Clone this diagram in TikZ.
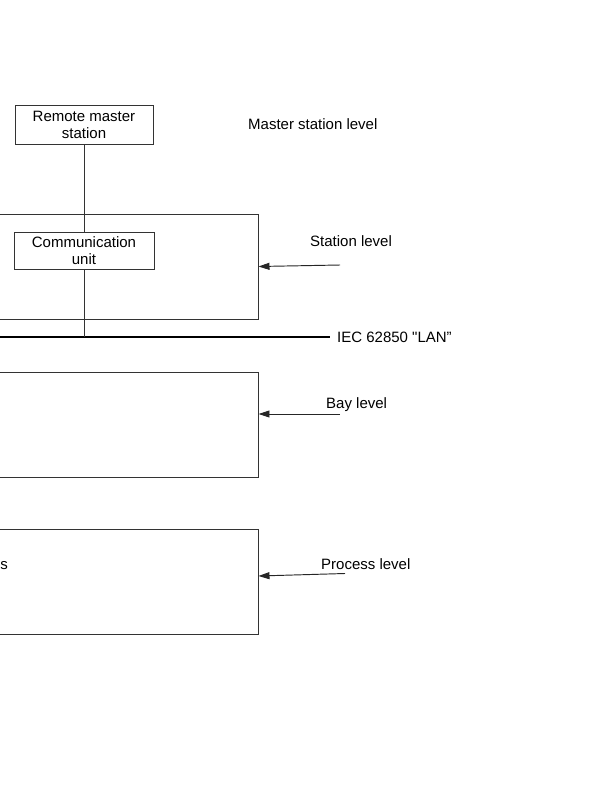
\documentclass[tikz,border=0pt]{standalone}
\usepackage{fontspec}
\setmainfont{Liberation Sans}[Ligatures=TeXOff]
\usetikzlibrary{positioning, arrows.meta}

\begin{document}
\begin{tikzpicture}[
    x=1pt, y=-1pt,
    >={Triangle[length=11pt,width=7pt]},
    every node/.style={font=\fontsize{15}{17}\selectfont},
    unit/.style={draw=black!80, line width=0.95pt, align=center, inner sep=0pt},
    level/.style={draw=black!80, line width=0.95pt, inner sep=0pt, minimum width=270pt, minimum height=105pt},
    label/.style={anchor=west, inner sep=0pt, text height=11pt, text depth=3pt},
    link/.style={draw=black!80, line width=0.95pt},
    pointer/.style={->, draw=black!85, line width=0.95pt},
    lan/.style={line width=2.8pt}
]
    \useasboundingbox (0,0) rectangle (599,800);
    \clip (0,0) rectangle (599,800);

    % the three level boxes
    \node[level] (stationbox) at (123,266.5) {};
    \node[level] (baybox) at (123,424.5) {};
    \node[level] (procbox) at (123,581.5) {};

    % units
    \node[unit, minimum width=138pt, minimum height=39pt] (remote) at (84,124.5) {Remote master\\station};
    \node[unit, minimum width=140pt, minimum height=37pt] (comm) at (84,250.5) {Communication\\unit};

    % station bus
    \coordinate (lanstart) at (-12,337);
    \coordinate (lanend) at (330,337);
    \draw[lan] (lanstart) -- (lanend);
    \node[label] (lantext) at (337,338) {IEC 62850 "LAN”};

    \draw[link] (remote) -- (comm);
    \draw[link] (comm) -- (comm.south |- lanend);

    % level names
    \node[label] (masterlabel) at (248,125) {Master station level};
    \node[label] (stationlabel) at (310,242) {Station level};
    \node[label] (baylabel) at (326,404) {Bay level};
    \node[label] (proclabel) at (321,565.5) {Process level};
    \node[label, anchor=east] (proccut) at (8,565) {s};

    \coordinate (sttail) at (340,265);
    \coordinate (baytail) at (340,414);
    \coordinate (proctail) at (345,573.5);
    \draw[pointer] (sttail) -- (stationbox.east);
    \draw[pointer] (baytail) -- (baytail -| baybox.east);
    \draw[pointer] (proctail) -- ([yshift=5.5pt]procbox.east);
\end{tikzpicture}
\end{document}
